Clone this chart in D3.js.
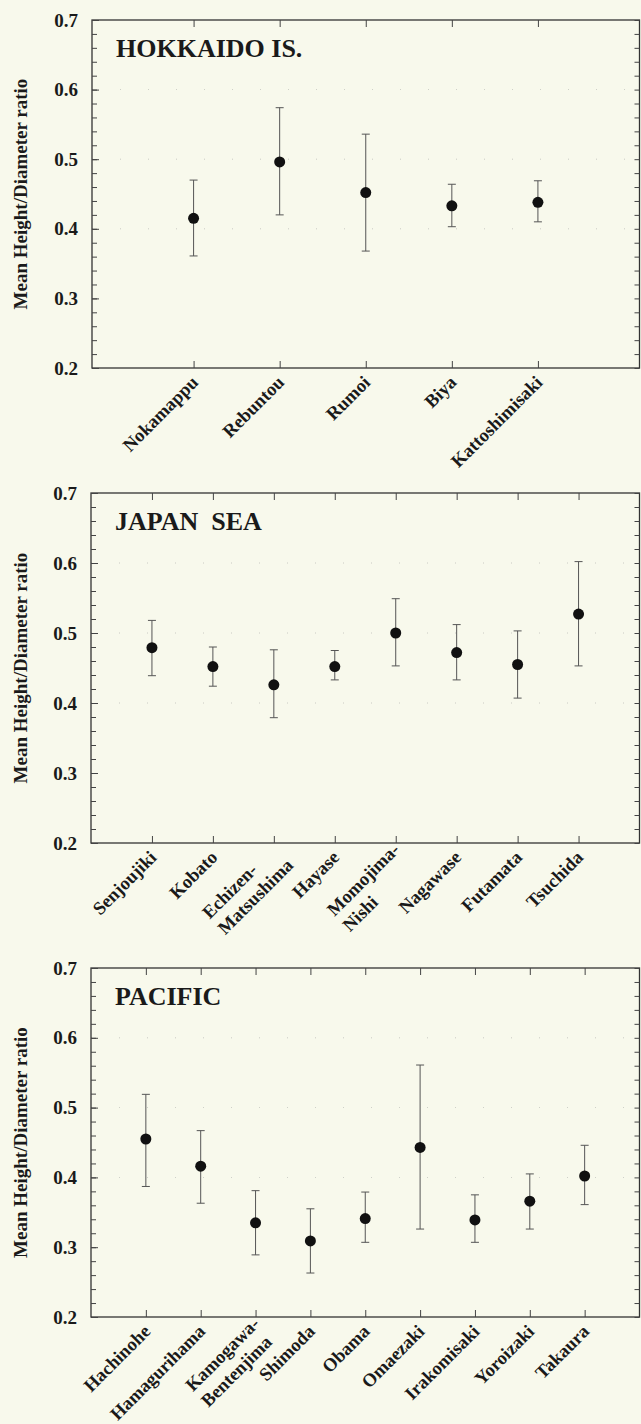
<!DOCTYPE html>
<html>
<head>
<meta charset="utf-8">
<script src="https://cdn.jsdelivr.net/npm/d3@7"></script>
<style>
  body { margin: 0; background: #f8f9ec; }
  svg text { font-family: "Liberation Serif", "Times New Roman", serif; fill: #1a1a1a; }
</style>
</head>
<body>
<div id="chart"></div>
<script>
// chart values
const yTicks = [0.2, 0.3, 0.4, 0.5, 0.6, 0.7];

const hokkaidoSites = ['Nokamappu', 'Rebuntou', 'Rumoi', 'Biya', 'Kattoshimisaki'];
const hokkaidoMean = [0.415, 0.496, 0.452, 0.433, 0.438];
const hokkaidoHigh = [0.470, 0.574, 0.536, 0.464, 0.469];
const hokkaidoLow = [0.361, 0.420, 0.368, 0.403, 0.410];

const japanSeaSites = ['Senjoujiki', 'Kobato', 'Echizen-\nMatsushima', 'Hayase', 'Momojima-\nNishi', 'Nagawase', 'Futamata', 'Tsuchida'];
const japanSeaMean = [0.479, 0.452, 0.426, 0.452, 0.500, 0.472, 0.455, 0.527];
const japanSeaHigh = [0.518, 0.480, 0.476, 0.475, 0.549, 0.512, 0.503, 0.602];
const japanSeaLow = [0.439, 0.424, 0.379, 0.433, 0.453, 0.433, 0.407, 0.453];

const pacificSites = ['Hachinohe', 'Hamagurihama', 'Kamogawa-\nBentenjima', 'Shimoda', 'Obama', 'Omaezaki', 'Irakomisaki', 'Yoroizaki', 'Takaura'];
const pacificMean = [0.455, 0.416, 0.335, 0.309, 0.341, 0.443, 0.339, 0.366, 0.402];
const pacificHigh = [0.519, 0.467, 0.381, 0.355, 0.379, 0.561, 0.375, 0.405, 0.446];
const pacificLow = [0.387, 0.363, 0.289, 0.263, 0.307, 0.326, 0.307, 0.326, 0.361];

const width = 641;
const height = 1424;
const right = 639.5;

// one entry per panel: layout + the arrays above
const panels = [
    {title: 'HOKKAIDO IS.', sites: hokkaidoSites, mean: hokkaidoMean, high: hokkaidoHigh, low: hokkaidoLow,
     left: 92, top: 20, bottom: 368, pad: 1.18},
    {title: 'JAPAN  SEA', sites: japanSeaSites, mean: japanSeaMean, high: japanSeaHigh, low: japanSeaLow,
     left: 91, top: 493, bottom: 843, pad: 1},
    {title: 'PACIFIC', sites: pacificSites, mean: pacificMean, high: pacificHigh, low: pacificLow,
     left: 91, top: 968, bottom: 1317, pad: 1}
];

const svg = d3.select('#chart')
    .append('svg')
    .attr('width', width)
    .attr('height', height);

svg.append('rect')
    .attr('width', width)
    .attr('height', height)
    .attr('fill', '#f8f9ec');

const minorTicks = d3.range(10, 36).map(i => i / 50);

panels.forEach(function(p) {
    const y = d3.scaleLinear().domain([0.2, 0.7]).range([p.bottom, p.top]);
    const x = d3.scalePoint().domain(p.sites).range([p.left, right]).padding(p.pad);

    const g = svg.append('g');

    // faint dotted grid (mostly lost in the scan)
    g.selectAll('.grid')
        .data([0.4, 0.5, 0.6])
        .enter()
        .append('line')
        .attr('x1', p.left).attr('x2', right)
        .attr('y1', d => y(d)).attr('y2', d => y(d))
        .attr('stroke', '#999')
        .attr('stroke-width', 0.8)
        .attr('stroke-dasharray', '1 27')
        .attr('opacity', 0.6);

    // frame
    g.append('rect')
        .attr('x', p.left)
        .attr('y', p.top)
        .attr('width', right - p.left)
        .attr('height', p.bottom - p.top)
        .attr('fill', 'none')
        .attr('stroke', '#333')
        .attr('stroke-width', 1.3);

    // left axis: inward ticks
    g.append('g')
        .attr('transform', `translate(${p.left},0)`)
        .call(d3.axisRight(y).tickValues(minorTicks).tickSize(5).tickFormat(''))
        .call(a => a.select('.domain').remove());
    g.append('g')
        .attr('transform', `translate(${p.left},0)`)
        .call(d3.axisRight(y).tickValues(yTicks).tickSize(7).tickFormat(''))
        .call(a => a.select('.domain').remove());
    // tick labels
    g.append('g')
        .attr('transform', `translate(${p.left},0)`)
        .call(d3.axisLeft(y).tickValues(yTicks).tickSize(0).tickPadding(14).tickFormat(d3.format('.1f')))
        .call(a => a.select('.domain').remove())
        .selectAll('text')
        .style('font-family', '"Liberation Serif", serif')
        .style('font-size', '19px')
        .style('font-weight', 'bold')
        .attr('fill', '#1a1a1a');

    // right axis: ticks pointing left
    g.append('g')
        .attr('transform', `translate(${right},0)`)
        .call(d3.axisLeft(y).tickValues(minorTicks).tickSize(5).tickFormat(''))
        .call(a => a.select('.domain').remove());

    // top and bottom: ticks at each site, pointing inward
    g.append('g')
        .attr('transform', `translate(0,${p.top})`)
        .call(d3.axisBottom(x).tickSize(7).tickFormat(''))
        .call(a => a.select('.domain').remove());
    g.append('g')
        .attr('transform', `translate(0,${p.bottom})`)
        .call(d3.axisTop(x).tickSize(7).tickFormat(''))
        .call(a => a.select('.domain').remove());

    g.selectAll('.tick line').attr('stroke', '#444');

    // error bars
    const bars = g.selectAll('.err')
        .data(p.sites)
        .enter()
        .append('g')
        .attr('class', 'err')
        .attr('stroke', '#555')
        .attr('stroke-width', 1);
    bars.append('line')
        .attr('x1', d => x(d)).attr('x2', d => x(d))
        .attr('y1', (d, i) => y(p.low[i]))
        .attr('y2', (d, i) => y(p.high[i]));
    bars.append('line')
        .attr('x1', d => x(d) - 4).attr('x2', d => x(d) + 4)
        .attr('y1', (d, i) => y(p.high[i])).attr('y2', (d, i) => y(p.high[i]));
    bars.append('line')
        .attr('x1', d => x(d) - 4).attr('x2', d => x(d) + 4)
        .attr('y1', (d, i) => y(p.low[i])).attr('y2', (d, i) => y(p.low[i]));

    // means
    g.selectAll('.dot')
        .data(p.sites)
        .enter()
        .append('circle')
        .attr('cx', d => x(d))
        .attr('cy', (d, i) => y(p.mean[i]))
        .attr('r', 5.5)
        .attr('fill', '#111');

    // panel title
    g.append('text')
        .text(p.title)
        .attr('x', p.left + 24)
        .attr('y', p.top + 37)
        .style('white-space', 'pre')
        .style('font-size', '26px')
        .style('font-weight', 'bold');

    // y axis title
    g.append('text')
        .text('Mean Height/Diameter ratio')
        .attr('transform', `translate(20,${(p.top + p.bottom) / 2}) rotate(-90)`)
        .attr('text-anchor', 'middle')
        .attr('dy', '0.35em')
        .style('font-size', '19px')
        .style('font-weight', 'bold');

    // rotated site names
    p.sites.forEach(function(site) {
        const lines = site.split('\n');
        const t = g.append('text')
            .attr('transform', `translate(${x(site)},${p.bottom}) rotate(-45)`)
            .style('font-size', '18.5px')
            .style('font-weight', 'bold');
        if (lines.length === 1) {
            t.attr('text-anchor', 'end').attr('x', -7).attr('y', 15).text(site);
        } else {
            lines.forEach((ln, i) => {
                t.append('tspan').attr('dy', i === 0 ? 0 : 22).text(ln);
            });
            const maxLen = d3.max(t.selectAll('tspan').nodes(), n => n.getComputedTextLength());
            t.attr('y', 9);
            t.selectAll('tspan').attr('x', -2 - maxLen);
        }
    });
});
</script>
</body>
</html>
